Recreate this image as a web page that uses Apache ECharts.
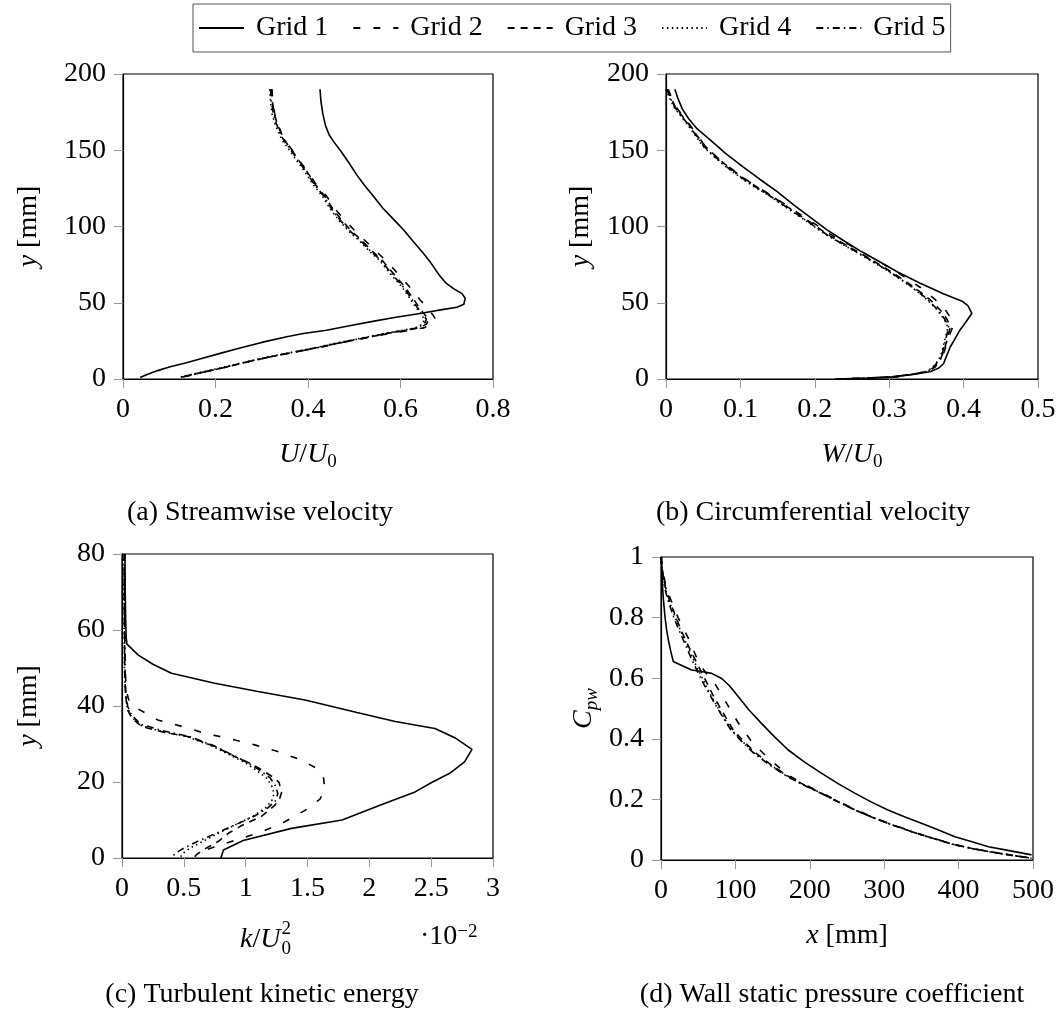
<!DOCTYPE html>
<html>
<head>
<meta charset="utf-8">
<script src="https://cdn.jsdelivr.net/npm/echarts@6.0.0/dist/echarts.min.js"></script>
<style>
html, body { margin: 0; padding: 0; background: #fff; }
#chart { width: 1060px; height: 1013px; }
</style>
</head>
<body>
<div id="chart"></div>
<script>
// legend names
const gridNames = ['Grid 1', 'Grid 2', 'Grid 3', 'Grid 4', 'Grid 5'];

// (a) streamwise velocity: [U/U0, y mm]
const uGrid1 = [[0.426,190],[0.428,182],[0.432,174],[0.438,166],[0.446,160],[0.457,155],[0.472,149],[0.488,142],[0.505,134],[0.522,127],[0.541,120],[0.562,112],[0.584,105],[0.606,98],[0.628,90],[0.648,83],[0.666,76],[0.684,68],[0.698,63],[0.716,59],[0.733,56],[0.740,53],[0.737,49],[0.722,47],[0.690,45.5],[0.642,43],[0.590,40.5],[0.540,37.8],[0.498,35.4],[0.440,32],[0.390,29.8],[0.354,27.7],[0.300,24],[0.255,20.5],[0.210,16.8],[0.170,13.5],[0.135,10.5],[0.102,8],[0.075,5.5],[0.052,3],[0.037,1]];
const uGrid2 = [[0.322,190],[0.324,182],[0.328,174],[0.334,168],[0.344,160],[0.354,155],[0.366,150],[0.382,143],[0.401,135],[0.419,127],[0.440,120],[0.460,111],[0.480,104],[0.502,97],[0.526,90],[0.550,83],[0.574,76],[0.600,67],[0.624,59],[0.642,52],[0.657,47],[0.670,42],[0.676,39],[0.668,36],[0.650,33.5],[0.612,31.5],[0.578,30],[0.540,27.8],[0.502,25.6],[0.464,23.3],[0.430,21],[0.375,17.8],[0.320,14.6],[0.266,11],[0.212,7],[0.166,4],[0.125,1]];
const uGrid3 = [[0.321,190],[0.323,182],[0.327,174],[0.333,168],[0.343,160],[0.353,155],[0.365,150],[0.381,143],[0.400,135],[0.417,127],[0.436,120],[0.455,111],[0.473,104],[0.494,97],[0.516,91],[0.538,84],[0.560,78],[0.585,69],[0.610,60],[0.627,53],[0.640,47],[0.653,42],[0.661,39],[0.656,36],[0.640,33.5],[0.604,31.5],[0.573,30],[0.538,27.8],[0.500,25.6],[0.462,23.3],[0.428,21],[0.374,17.8],[0.320,14.6],[0.266,11],[0.212,7],[0.166,4],[0.124,1]];
const uGrid4 = [[0.317,190],[0.319,182],[0.322,174],[0.328,168],[0.338,160],[0.348,155],[0.360,150],[0.376,143],[0.395,135],[0.412,127],[0.431,120],[0.449,111],[0.467,104],[0.488,97],[0.510,91],[0.532,84],[0.554,78],[0.578,69],[0.604,60],[0.620,53],[0.633,47],[0.646,42],[0.652,39],[0.647,36],[0.632,33.5],[0.597,31.5],[0.567,30],[0.532,27.8],[0.495,25.6],[0.457,23.3],[0.423,21],[0.369,17.8],[0.315,14.6],[0.262,11],[0.207,7],[0.162,4],[0.120,1]];
const uGrid5 = [[0.319,190],[0.321,182],[0.325,174],[0.331,168],[0.341,160],[0.351,155],[0.363,150],[0.379,143],[0.398,135],[0.415,127],[0.434,120],[0.452,111],[0.470,104],[0.491,97],[0.513,91],[0.535,84],[0.557,78],[0.581,69],[0.607,60],[0.623,53],[0.636,47],[0.649,42],[0.656,39],[0.651,36],[0.636,33.5],[0.601,31.5],[0.571,30],[0.536,27.8],[0.499,25.6],[0.461,23.3],[0.427,21],[0.373,17.8],[0.319,14.6],[0.266,11],[0.211,7],[0.166,4],[0.124,1]];

// (b) circumferential velocity: [W/U0, y mm]
const wGrid1 = [[0.012,190],[0.016,184],[0.022,177],[0.030,171],[0.042,164],[0.059,157],[0.080,148],[0.104,139],[0.126,131],[0.149,123],[0.172,114],[0.194,106],[0.216,98],[0.238,91],[0.261,84],[0.283,78],[0.312,70],[0.341,63],[0.372,56],[0.398,51],[0.406,48],[0.411,43],[0.404,38],[0.395,32],[0.388,26],[0.382,21],[0.377,15],[0.373,10],[0.366,7],[0.355,4.8],[0.330,3],[0.305,1.6],[0.270,0.7],[0.229,0]];
const wGrid2 = [[0.003,190],[0.008,184],[0.014,178],[0.022,173],[0.030,168],[0.042,160],[0.052,153],[0.067,146],[0.085,139],[0.113,129],[0.143,120],[0.171,111],[0.199,102],[0.224,94],[0.250,87],[0.283,78],[0.314,69],[0.342,60],[0.362,52],[0.376,45],[0.384,39],[0.386,35],[0.382,30],[0.378,24],[0.374,18],[0.369,13],[0.362,8],[0.353,5],[0.332,3],[0.306,1.2],[0.266,0.4],[0.228,0]];
const wGrid3 = [[0.002,190],[0.007,184],[0.013,178],[0.021,173],[0.029,168],[0.041,160],[0.052,153],[0.067,146],[0.084,139],[0.112,129],[0.142,120],[0.169,111],[0.196,102],[0.220,94],[0.245,87],[0.277,78],[0.307,69],[0.334,60],[0.355,52],[0.369,45],[0.378,39],[0.382,34],[0.380,30],[0.377,24],[0.373,18],[0.369,13],[0.361,8],[0.352,5],[0.331,3],[0.305,1.2],[0.266,0.4],[0.227,0]];
const wGrid4 = [[0.000,190],[0.005,184],[0.011,178],[0.019,173],[0.027,168],[0.039,160],[0.049,153],[0.064,146],[0.081,139],[0.109,129],[0.139,120],[0.166,111],[0.193,102],[0.217,94],[0.242,87],[0.274,78],[0.304,69],[0.331,60],[0.351,52],[0.365,45],[0.374,39],[0.379,34],[0.377,30],[0.374,24],[0.371,18],[0.367,13],[0.359,8],[0.351,5],[0.329,3],[0.304,1.2],[0.264,0.4],[0.225,0]];
const wGrid5 = [[0.001,190],[0.006,184],[0.012,178],[0.020,173],[0.028,168],[0.040,160],[0.050,153],[0.065,146],[0.082,139],[0.110,129],[0.140,120],[0.167,111],[0.194,102],[0.218,94],[0.243,87],[0.275,78],[0.305,69],[0.332,60],[0.352,52],[0.366,45],[0.375,39],[0.380,34],[0.378,30],[0.375,24],[0.372,18],[0.368,13],[0.360,8],[0.352,5],[0.330,3],[0.305,1.2],[0.265,0.4],[0.226,0]];

// (c) turbulent kinetic energy: [k/U0^2 * 1e2, y mm]
const kGrid1 = [[0.024,80],[0.026,70],[0.030,62],[0.034,58],[0.040,56.3],[0.132,53.4],[0.25,51],[0.40,48.6],[0.75,46],[1.10,43.8],[1.48,41.6],[1.90,38.3],[2.21,35.9],[2.53,34.1],[2.70,31.5],[2.83,28.6],[2.77,25.3],[2.65,22.3],[2.50,19.8],[2.37,17.4],[2.08,13.8],[1.78,10],[1.37,7.8],[0.98,4.6],[0.82,2.1],[0.80,0]];
const kGrid2 = [[0.020,80],[0.020,70],[0.022,60],[0.025,50],[0.035,44],[0.06,41],[0.12,39.4],[0.29,36.3],[0.51,34.4],[0.67,32.8],[0.86,31.5],[1.08,29.7],[1.26,28],[1.45,25.8],[1.58,23.5],[1.63,21],[1.64,17.9],[1.60,15.5],[1.51,13.1],[1.32,9.6],[1.13,6.9],[0.95,5],[0.80,3.5],[0.67,2],[0.63,0.8],[0.62,0]];
const kGrid3 = [[0.018,80],[0.018,70],[0.020,60],[0.022,50],[0.028,43],[0.045,39],[0.08,36.8],[0.16,34.6],[0.35,33],[0.54,31.9],[0.74,29.5],[0.92,26.6],[1.05,24.7],[1.13,23.2],[1.22,21.3],[1.27,19.9],[1.29,17.2],[1.27,15.2],[1.23,13.7],[1.13,11],[0.96,8.4],[0.86,6.5],[0.78,4.4],[0.66,2.2],[0.60,0.8],[0.58,0]];
const kGrid4 = [[0.016,80],[0.016,70],[0.018,60],[0.020,50],[0.026,44],[0.04,40],[0.07,37.5],[0.14,35],[0.32,33.3],[0.52,32],[0.72,29.6],[0.88,27],[1.00,25],[1.09,23],[1.17,21],[1.21,19],[1.23,17],[1.21,15],[1.16,13.2],[1.06,11],[0.92,8.8],[0.78,6.5],[0.66,4.5],[0.55,2.6],[0.49,1.2],[0.47,0]];
const kGrid5 = [[0.020,80],[0.020,70],[0.022,60],[0.024,50],[0.030,44],[0.045,40],[0.075,37.8],[0.15,35.2],[0.34,33.4],[0.54,32],[0.74,29.6],[0.90,27],[1.02,25],[1.12,23],[1.20,21],[1.24,19],[1.26,17],[1.24,15],[1.18,13.2],[1.07,11],[0.92,8.8],[0.76,6.5],[0.62,4.5],[0.50,2.6],[0.43,1.2],[0.40,0]];

// (d) wall static pressure coefficient: [x mm, Cpw]
const cpGrid1 = [[0.9,1.0],[1.2,0.96],[1.8,0.912],[3.2,0.86],[5.4,0.802],[7.5,0.76],[9.9,0.726],[13,0.69],[16.5,0.655],[25,0.645],[41,0.627],[55,0.622],[68,0.616],[81.6,0.599],[92,0.575],[104,0.539],[118,0.496],[135,0.451],[152,0.408],[171,0.363],[193,0.323],[216,0.286],[238,0.252],[261,0.220],[283,0.191],[305,0.165],[328,0.142],[350,0.121],[373,0.099],[395,0.077],[418,0.060],[440,0.044],[470,0.030],[498,0.017]];
const cpGrid2 = [[0,1.0],[1.5,0.97],[3.5,0.94],[7,0.90],[13,0.86],[23,0.80],[30,0.765],[38,0.726],[45,0.685],[50,0.655],[60,0.618],[72,0.584],[88,0.518],[104,0.452],[122,0.39],[144,0.336],[171,0.28],[193,0.249],[216,0.222],[238,0.194],[261,0.167],[283,0.143],[305,0.122],[328,0.102],[350,0.084],[373,0.067],[395,0.051],[418,0.039],[440,0.028],[470,0.016],[498,0.006]];
const cpGrid3 = [[0,1.0],[1.2,0.97],[3,0.94],[6,0.902],[11,0.86],[20,0.802],[26,0.765],[33,0.726],[43,0.675],[53,0.627],[62,0.583],[71,0.539],[84,0.484],[97,0.429],[112,0.390],[128,0.352],[149,0.312],[172,0.275],[194,0.246],[216,0.220],[238,0.192],[261,0.165],[283,0.142],[305,0.121],[328,0.101],[350,0.083],[373,0.066],[395,0.050],[418,0.038],[440,0.028],[470,0.016],[498,0.006]];
const cpGrid4 = [[0,1.0],[1,0.97],[2.5,0.94],[5.4,0.902],[10,0.86],[19,0.802],[25,0.765],[32,0.726],[41,0.675],[50,0.627],[59,0.583],[68,0.539],[81,0.484],[95,0.429],[110,0.390],[126,0.352],[148,0.312],[171,0.275],[193,0.246],[216,0.220],[238,0.192],[261,0.165],[283,0.142],[305,0.121],[328,0.101],[350,0.083],[373,0.066],[395,0.050],[418,0.038],[440,0.028],[470,0.016],[498,0.006]];
const cpGrid5 = [[0,1.0],[0.8,0.97],[2,0.94],[4.6,0.902],[9,0.86],[17,0.802],[23,0.765],[30,0.726],[39,0.675],[48,0.627],[57,0.583],[67,0.539],[80,0.484],[94,0.429],[109,0.390],[125,0.352],[147,0.312],[170,0.275],[193,0.246],[215,0.220],[238,0.192],[261,0.165],[283,0.142],[305,0.121],[328,0.101],[350,0.083],[373,0.066],[395,0.050],[418,0.038],[440,0.028],[470,0.016],[498,0.006]];

// axis ranges [min, max, interval]
const uRange = [0, 0.8, 0.2];
const wRange = [0, 0.5, 0.1];
const kRange = [0, 3, 0.5];
const xRange = [0, 500, 100];
const yRange = [0, 200, 50];
const yRangeK = [0, 80, 20];
const cpRange = [0, 1, 0.2];

const captions = ['(a) Streamwise velocity', '(b) Circumferential velocity',
  '(c) Turbulent kinetic energy', '(d) Wall static pressure coefficient'];

const FONT = '"Liberation Serif", "DejaVu Serif", serif';
const FS = 28;

// pgfplots style line patterns
const lineTypes = ['solid', [7, 13], [7, 6], [1.5, 3.4], [7, 4, 1.5, 4]];

const chart = echarts.init(document.getElementById('chart'), null, { renderer: 'canvas' });

const rich = {
  i: { fontStyle: 'italic', fontFamily: FONT, fontSize: FS, lineHeight: 34 },
  s: { fontFamily: FONT, fontSize: 19, lineHeight: 15, verticalAlign: 'bottom' },
  si: { fontFamily: FONT, fontSize: 19, fontStyle: 'italic', lineHeight: 15, verticalAlign: 'bottom' }
};

function xAx(idx, r, name, gap) {
  return {
    gridIndex: idx, type: 'value', min: r[0], max: r[1], interval: r[2],
    axisLine: { show: true, onZero: false, lineStyle: { color: '#000', width: 1.2 } },
    axisTick: { show: true, length: 9, lineStyle: { color: '#999', width: 1 } },
    axisLabel: { fontFamily: FONT, fontSize: FS, color: '#000', margin: 17 },
    splitLine: { show: false },
    name: name, nameLocation: 'middle', nameGap: gap,
    nameTextStyle: { fontFamily: FONT, fontSize: FS, color: '#000', lineHeight: 34, rich: rich }
  };
}
function yAx(idx, r, name, gap) {
  return {
    gridIndex: idx, type: 'value', min: r[0], max: r[1], interval: r[2],
    axisLine: { show: true, onZero: false, lineStyle: { color: '#000', width: 1.2 } },
    axisTick: { show: true, length: 9, lineStyle: { color: '#999', width: 1 } },
    axisLabel: { fontFamily: FONT, fontSize: FS, color: '#000', margin: 17 },
    splitLine: { show: false },
    name: name, nameLocation: 'middle', nameGap: gap, nameRotate: 90,
    nameTextStyle: { fontFamily: FONT, fontSize: FS, color: '#000', lineHeight: 34, rich: rich }
  };
}

function mk(idx, data, g) {
  return {
    name: gridNames[g], type: 'line', xAxisIndex: idx, yAxisIndex: idx,
    data: data, symbol: 'none', showSymbol: false, silent: true,
    itemStyle: { color: '#000' },
    lineStyle: { color: '#000', width: 1.6, type: lineTypes[g], cap: 'butt' },
    z: 5 - g
  };
}

const panels = [
  [uGrid1, uGrid2, uGrid3, uGrid4, uGrid5],
  [wGrid1, wGrid2, wGrid3, wGrid4, wGrid5],
  [kGrid1, kGrid2, kGrid3, kGrid4, kGrid5],
  [cpGrid1, cpGrid2, cpGrid3, cpGrid4, cpGrid5]
];
const series = [];
panels.forEach((p, idx) => p.forEach((d, g) => series.push(mk(idx, d, g))));

// measure text for the stacked k/U0^2 label
const ctx = document.createElement('canvas').getContext('2d');
function tw(t, font) { ctx.font = font; return ctx.measureText(t).width; }
const kx = 240, ky = 940;
const kw = tw('k', 'italic 28px ' + FONT) + tw('/', '28px ' + FONT) + tw('U', 'italic 28px ' + FONT);

function caption(text, x, y) {
  return { type: 'text', x: x, y: y, style: { text: text, font: FS + 'px ' + FONT, fill: '#000', align: 'center', verticalAlign: 'middle' } };
}

chart.setOption({
  animation: false,
  backgroundColor: '#fff',
  legend: {
    data: gridNames, top: 4, left: 193,
    itemWidth: 45, itemHeight: 14, itemGap: 24,
    itemStyle: { opacity: 0 },
    borderColor: '#555', borderWidth: 1, padding: [10, 5],
    textStyle: { fontFamily: FONT, fontSize: FS, color: '#000', padding: [0, 0, 0, 7] },
    selectedMode: false
  },
  grid: [
    { left: 123, top: 74, width: 370, height: 305, show: true, borderColor: '#000', borderWidth: 1.2, outerBoundsMode: 'none' },
    { left: 666, top: 74, width: 372, height: 305, show: true, borderColor: '#000', borderWidth: 1.2, outerBoundsMode: 'none' },
    { left: 122, top: 554, width: 371, height: 304, show: true, borderColor: '#000', borderWidth: 1.2, outerBoundsMode: 'none' },
    { left: 661, top: 557, width: 372, height: 303, show: true, borderColor: '#000', borderWidth: 1.2, outerBoundsMode: 'none' }
  ],
  xAxis: [
    xAx(0, uRange, '{i|U}/{i|U}{s|0}', 59),
    xAx(1, wRange, '{i|W}/{i|U}{s|0}', 59),
    xAx(2, kRange, '', 59),
    xAx(3, xRange, '{i|x} [mm]', 59)
  ],
  yAxis: [
    yAx(0, yRange, '{i|y} [mm]', 77),
    yAx(1, yRange, '{i|y} [mm]', 68),
    yAx(2, yRangeK, '{i|y} [mm]', 76),
    yAx(3, cpRange, '{i|C}{si|pw}', 60)
  ],
  graphic: [
    caption(captions[0], 260, 513),
    caption(captions[1], 813, 513),
    caption(captions[2], 262, 995),
    caption(captions[3], 832, 995),
    { type: 'text', x: kx, y: ky, style: { text: '{i|k}/{i|U}', rich: rich, font: FS + 'px ' + FONT, fill: '#000', verticalAlign: 'middle' } },
    { type: 'text', x: kx + kw + 1, y: ky + 9, style: { text: '0', font: '19px ' + FONT, fill: '#000', verticalAlign: 'middle' } },
    { type: 'text', x: kx + kw + 1, y: ky - 11, style: { text: '2', font: '19px ' + FONT, fill: '#000', verticalAlign: 'middle' } },
    { type: 'text', x: 420, y: ky - 3, style: { text: '·10{p|−2}', font: FS + 'px ' + FONT, fill: '#000', verticalAlign: 'middle',
      rich: { p: { fontFamily: FONT, fontSize: 19, lineHeight: 15, verticalAlign: 'top' } } } }
  ],
  series: series
});
</script>
</body>
</html>
